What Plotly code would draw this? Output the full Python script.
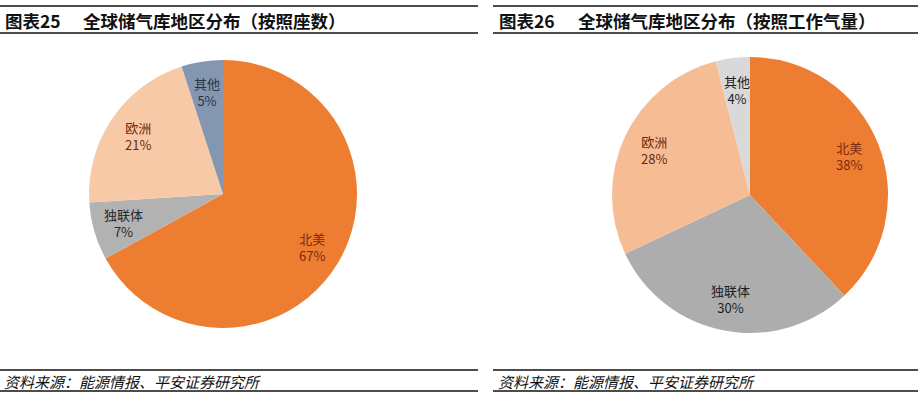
import math
import plotly.graph_objects as go

W, H = 918, 399

regions = ["北美", "独联体", "欧洲", "其他"]
share_by_count = [67, 7, 21, 5]
share_by_capacity = [38, 30, 28, 4]

title_left_no = "图表25"
title_left = "全球储气库地区分布（按照座数）"
title_right_no = "图表26"
title_right = "全球储气库地区分布（按照工作气量）"
source_text = "资料来源：能源情报、平安证券研究所"

colors_left = ["#ED7D31", "#B2B2B2", "#F8C9A6", "#8496B0"]
colors_right = ["#ED7D31", "#ADADAD", "#F6BC94", "#D9D9D9"]
text_left = ["#7B2A0C", "#262626", "#6B2A0E", "#2B3547"]
text_right = ["#7B2A0C", "#1E1E1E", "#6B2A0E", "#1E1E1E"]

FONT = "Noto Sans CJK SC"
LABEL_FRAC = 0.77

# pie boxes in pixels: (left, right, top, bottom)
box_left = (89, 357, 59, 329)
box_right = (612, 888, 57, 333)


def dom(box):
    a, b, t, btm = box
    return dict(x=[a / W, b / W], y=[1 - btm / H, 1 - t / H])


fig = go.Figure()
ann = []


def add_pie(values, colors, tcolors, box):
    fig.add_trace(go.Pie(
        labels=regions, values=values, sort=False, direction="clockwise",
        rotation=0, marker=dict(colors=colors, line=dict(width=0)),
        textinfo="none", domain=dom(box),
        showlegend=False, hoverinfo="label+value",
    ))
    a, b, t, btm = box
    cx, cy = (a + b) / 2, (t + btm) / 2
    r = min(b - a, btm - t) / 2
    total = sum(values)
    cum = 0
    for lab, v, tc in zip(regions, values, tcolors):
        mid = (cum + v / 2) / total * 2 * math.pi
        cum += v
        px = cx + LABEL_FRAC * r * math.sin(mid)
        py = cy - LABEL_FRAC * r * math.cos(mid)
        ann.append(dict(text=f"{lab}<br>{v}%", x=px / W, y=1 - py / H,
                        xref="paper", yref="paper", xanchor="center",
                        yanchor="middle", showarrow=False, align="center",
                        font=dict(family=FONT, size=13, color=tc)))


add_pie(share_by_count, colors_left, text_left, box_left)
add_pie(share_by_capacity, colors_right, text_right, box_right)

shapes = []
for (x0, x1) in [(0, 478), (493, 918)]:
    for yy in [6, 33, 370, 391]:
        shapes.append(dict(type="line", xref="paper", yref="paper",
                           x0=x0 / W, x1=x1 / W, y0=1 - yy / H, y1=1 - yy / H,
                           line=dict(color="#111111", width=1.3)))


def add_text(txt, x, y, size, bold=False, italic=False):
    t = txt
    if bold:
        t = "<b>" + t + "</b>"
    if italic:
        t = "<i>" + t + "</i>"
    ann.append(dict(text=t, x=x / W, y=1 - y / H, xref="paper", yref="paper",
                    xanchor="left", yanchor="middle", showarrow=False,
                    font=dict(family=FONT, size=size, color="#111111")))


add_text(title_left_no, 3, 20, 17.5, bold=True)
add_text(title_left, 81, 20, 17.5, bold=True)
add_text(title_right_no, 497, 20, 17.5, bold=True)
add_text(title_right, 576, 20, 17.5, bold=True)
add_text(source_text, 2, 381, 15, italic=True)
add_text(source_text, 496, 381, 15, italic=True)

fig.update_layout(width=W, height=H, margin=dict(l=0, r=0, t=0, b=0),
                  paper_bgcolor="white", plot_bgcolor="white",
                  shapes=shapes, annotations=ann)

fig.write_html("out.html")
